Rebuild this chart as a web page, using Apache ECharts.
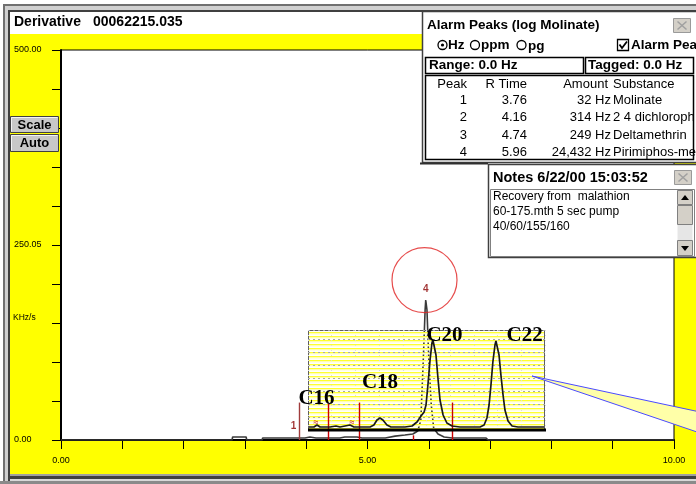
<!DOCTYPE html>
<html><head><meta charset="utf-8">
<script src="https://cdn.jsdelivr.net/npm/echarts@6/dist/echarts.min.js"></script>
<style>html,body{margin:0;padding:0;background:#fff}#c{width:696px;height:484px}</style>
</head><body><div id="c"></div>
<script>
// ---------- data ----------
const mainX = [0, 2.79, 2.80, 3.02, 3.03, 3.28, 3.29, 3.87, 3.98, 4.06, 4.16, 4.55, 4.63, 4.83, 4.91, 5.29, 5.45, 5.61, 5.74, 5.82, 5.87, 5.91, 5.94, 5.95, 5.97, 6.00, 6.04, 6.08, 6.15, 6.25, 6.38, 6.93, 6.97, 10];
const mainY = [0, 0, 3.8, 3.8, 0, 0, 2.6, 2.6, 2.6, 3.8, 2.6, 2.6, 3.8, 3.8, 2.6, 2.6, 5, 6.4, 7.7, 11.5, 25.6, 103, 167, 179.5, 167, 103, 45, 15, 7.7, 3.8, 2.6, 2.6, 0, 0];

const insetX = [0.4, 2.5, 3.8, 5.1, 9.3, 11.8, 13.5, 15.6, 17.7, 19.4, 26.2, 27.8, 29.1, 30.4, 31.6, 33.3, 35, 40.9, 43.9, 46, 47.7, 49, 49.8, 50.6, 51.5, 52.3, 52.7, 53.2, 54, 54.9, 55.7, 57, 58.6, 60.8, 64.1, 72.6, 74.3, 75.5, 76.4, 77.2, 78, 78.9, 79.3, 79.7, 80.6, 81.4, 82.3, 83.1, 84.4, 86.1, 88.6, 99.6];
const insetY = [3, 3, 5, 3, 3, 4, 3, 4, 5, 3, 3, 5, 10, 12, 10, 5, 3, 3, 4, 8, 14, 18, 25, 45, 70, 87, 90, 89, 75, 50, 30, 15, 7, 4, 3, 3, 5, 12, 25, 45, 68, 85, 89, 87, 75, 55, 35, 20, 9, 4, 3, 3];

const insetLabels = ['C16', 'C18', 'C20', 'C22'];
const insetLabelX = [3.8, 30.6, 57.8, 91.6];
const insetLabelY = [31, 47, 94, 94];

const markerX = [3.88, 4.36, 4.86, 6.38, 5.74];
const markerH = [48, 47, 48, 48, 6];

const peakNo = ['1', '2', '3', '4'];
const peakRT = ['3.76', '4.16', '4.74', '5.96'];
const peakAmount = ['32', '314', '249', '24,432'];
const peakSubstance = ['Molinate', '2 4 dichloroph', 'Deltamethrin', 'Pirimiphos-met'];

const yLabelValues = [0, 250, 500];
const yLabelTexts = ['0.00', '250.05', '500.00'];
const xLabelValues = [0, 5, 10];
const xLabelTexts = ['0.00', '5.00', '10.00'];

const alarmPeak = [5.93, 205];
const alarmLabel = [5.96, 193];
const firstPeakLabel = [3.80, 17];

const noteLines = ['Recovery from  malathion', '60-175.mth 5 sec pump', '40/60/155/160'];

// ---------- helpers ----------
const FONT = '"Liberation Sans", Arial, sans-serif';
const SERIF = '"Liberation Serif", "Times New Roman", serif';
function rect(x, y, w, h, fill, stroke, lw, z) {
  return {type: 'rect', shape: {x, y, width: w, height: h}, style: {fill: fill || 'none', stroke: stroke || 'none', lineWidth: lw || 1}, z: z || 10, silent: true};
}
function txt(x, y, s, o) {
  o = o || {};
  return {type: 'text', x, y, z: o.z || 11, silent: true,
    style: {text: s, fill: o.color || '#000', font: (o.bold ? 'bold ' : '') + (o.size || 12) + 'px ' + (o.family || FONT),
      textAlign: o.align || 'left', textVerticalAlign: 'middle', verticalAlign: 'middle'}};
}
function line(x1, y1, x2, y2, color, lw, z) {
  return {type: 'line', shape: {x1, y1, x2, y2}, style: {stroke: color, lineWidth: lw || 1}, z: z || 10, silent: true};
}
function makePattern() {
  const c = document.createElement('canvas'); c.width = 4; c.height = 4;
  const g = c.getContext('2d');
  g.fillStyle = '#ffff30'; g.fillRect(0, 0, 4, 1);
  g.fillStyle = '#ffffb0'; g.fillRect(0, 1, 4, 1);
  g.fillStyle = 'rgba(255,255,200,0.5)'; g.fillRect(0, 2, 4, 1);
  return c;
}

// ---------- graphics (window chrome, panels) ----------
const G = [];
G.push(rect(0, 0, 696, 34, '#fff', null, 1, 1));
G.push(rect(0, 0, 10, 484, '#fff', null, 1, 1));
G.push(rect(3, 4, 2, 480, '#707070', null, 1, 1));
G.push(rect(5, 6, 3, 478, '#d0d0d0', null, 1, 1));
G.push(rect(8, 10, 2, 474, '#404040', null, 1, 1));
G.push(rect(3, 4, 693, 2, '#707070', null, 1, 1));
G.push(rect(5, 6, 691, 4, '#d0d0d0', null, 1, 1));
G.push(rect(8, 10, 688, 2, '#404040', null, 1, 1));
G.push(rect(10, 474, 686, 2, '#a0a0a0', null, 1, 1));
G.push(rect(10, 476, 686, 3, '#404040', null, 1, 1));
G.push(rect(10, 479, 686, 2, '#d8d8d8', null, 1, 1));
G.push(rect(0, 481, 696, 3, '#8a8a8a', null, 1, 1));
G.push(txt(14, 22, 'Derivative', {bold: true, size: 14, z: 2}));
G.push(txt(93, 22, '00062215.035', {bold: true, size: 14, z: 2}));

function button(x, y, w, h, label) {
  G.push(rect(x, y, w, h, '#c8c8c8', '#404040', 1, 8));
  G.push(line(x + 1, y + 1, x + w - 1, y + 1, '#f4f4f4', 1, 9));
  G.push(line(x + 1, y + 1, x + 1, y + h - 1, '#f4f4f4', 1, 9));
  G.push(txt(x + w / 2, y + h / 2 + 0.5, label, {bold: true, size: 13, align: 'center', z: 9}));
}
button(10.5, 116.5, 48, 16, 'Scale');
button(10.5, 134.5, 48, 17, 'Auto');
G.push(txt(13, 318, 'KHz/s', {size: 8.5, z: 3}));

// inset background and frame
G.push({type: 'rect', shape: {x: 308.5, y: 330.5, width: 236, height: 99}, style: {fill: {image: makePattern(), repeat: 'repeat'}, stroke: '#606060', lineWidth: 1}, z: 3, silent: true});
G.push(line(308, 430, 546, 430, '#000', 3, 6));
G.push(txt(316, 423, '≈', {size: 9, color: '#c00000', z: 6, align: 'center'}));
G.push(txt(352, 423, '≈', {size: 9, color: '#c00000', z: 6, align: 'center'}));

// callout wedge
G.push({type: 'polygon', shape: {points: [[532, 376], [700, 412], [700, 433]]}, style: {fill: '#ffffa8'}, z: 7, silent: true});
G.push({type: 'polyline', shape: {points: [[532, 376], [700, 412]]}, style: {stroke: '#4a4aff', lineWidth: 1}, z: 7, silent: true});
G.push({type: 'polyline', shape: {points: [[532, 376], [700, 433]]}, style: {stroke: '#4a4aff', lineWidth: 1}, z: 7, silent: true});

function closeBtn(x, y) {
  G.push(rect(x, y, 17, 14, '#d4d0c8', '#9a9a9a', 1, 12));
  G.push(line(x + 4, y + 3, x + 13, y + 11, '#a0a0a0', 1.5, 13));
  G.push(line(x + 13, y + 3, x + 4, y + 11, '#a0a0a0', 1.5, 13));
}

// Alarm Peaks panel
G.push(rect(422.5, 11.5, 275, 151, '#fff', '#404040', 1.5, 10));
G.push(line(420, 163.5, 488, 163.5, '#303030', 2, 10));
G.push(txt(427, 25, 'Alarm Peaks (log Molinate)', {bold: true, size: 13.5}));
closeBtn(673.5, 18.5);
G.push({type: 'circle', shape: {cx: 442.5, cy: 45, r: 4.5}, style: {fill: '#fff', stroke: '#000', lineWidth: 1.3}, z: 11, silent: true});
G.push({type: 'circle', shape: {cx: 442.5, cy: 45, r: 1.6}, style: {fill: '#000'}, z: 12, silent: true});
G.push(txt(448, 45, 'Hz', {bold: true, size: 13.5}));
G.push({type: 'circle', shape: {cx: 475, cy: 45, r: 4.5}, style: {fill: '#fff', stroke: '#000', lineWidth: 1.3}, z: 11, silent: true});
G.push(txt(481, 45, 'ppm', {bold: true, size: 13.5}));
G.push({type: 'circle', shape: {cx: 521.5, cy: 45, r: 4.5}, style: {fill: '#fff', stroke: '#000', lineWidth: 1.3}, z: 11, silent: true});
G.push(txt(528, 46, 'pg', {bold: true, size: 13.5}));
G.push(rect(617.5, 39.5, 11, 11, '#fff', '#000', 1.3, 11));
G.push({type: 'polyline', shape: {points: [[619.5, 44.5], [622, 48], [627, 41.5]]}, style: {stroke: '#000', lineWidth: 1.8}, z: 12, silent: true});
G.push(txt(631, 45, 'Alarm Peaks', {bold: true, size: 13.5}));
G.push(rect(425.5, 57.5, 158, 16, '#fff', '#000', 1.5, 11));
G.push(txt(429, 65.5, 'Range: 0.0 Hz', {bold: true, size: 13.5, z: 12}));
G.push(rect(585.5, 57.5, 108, 16, '#fff', '#000', 1.5, 11));
G.push(txt(588, 65.5, 'Tagged: 0.0 Hz', {bold: true, size: 13.5, z: 12}));
G.push(rect(425.5, 75.5, 268, 84, '#fff', '#000', 1.5, 11));
const TS = 13;
G.push(txt(467, 84, 'Peak', {size: TS, align: 'right', z: 12}));
G.push(txt(527, 84, 'R Time', {size: TS, align: 'right', z: 12}));
G.push(txt(608, 84, 'Amount', {size: TS, align: 'right', z: 12}));
G.push(txt(613, 84, 'Substance', {size: TS, z: 12}));
const rowY = [100, 117, 135, 152];
peakNo.forEach((p, i) => {
  G.push(txt(467, rowY[i], p, {size: TS, align: 'right', z: 12}));
  G.push(txt(527, rowY[i], peakRT[i], {size: TS, align: 'right', z: 12}));
  G.push(txt(611, rowY[i], peakAmount[i] + ' Hz', {size: TS, align: 'right', z: 12}));
  G.push(txt(613, rowY[i], peakSubstance[i], {size: TS, z: 12}));
});

// Notes panel
G.push(rect(488.5, 164.5, 209, 93, '#fff', '#404040', 1.5, 10));
G.push(txt(493, 178, 'Notes 6/22/00 15:03:52', {bold: true, size: 14.5}));
closeBtn(674.5, 170.5);
G.push(rect(490.5, 189.5, 204, 67, '#fff', '#808080', 1, 11));
noteLines.forEach((s, i) => G.push(txt(493, 197 + i * 15, s, {size: 12, z: 12})));
G.push(rect(677.5, 190.5, 15, 14, '#d4d0c8', '#808080', 1, 12));
G.push({type: 'polygon', shape: {points: [[681, 200], [689, 200], [685, 195]]}, style: {fill: '#000'}, z: 13, silent: true});
G.push(rect(677.5, 205.5, 15, 19, '#d4d0c8', '#808080', 1, 12));
G.push(rect(677.5, 225, 15, 15, '#e6e6e6', null, 1, 12));
G.push(rect(677.5, 240.5, 15, 15, '#d4d0c8', '#808080', 1, 12));
G.push({type: 'polygon', shape: {points: [[681, 246], [689, 246], [685, 251]]}, style: {fill: '#000'}, z: 13, silent: true});

// ---------- chart ----------
const chart = echarts.init(document.getElementById('c'), null, {renderer: 'canvas'});
const mainData = mainX.map((x, i) => [x, mainY[i]]);
const insetData = insetX.map((x, i) => [x, insetY[i]]);

const option = {
  animation: false,
  backgroundColor: '#ffff00',
  textStyle: {fontFamily: FONT},
  grid: [
    {left: 61, top: 50, right: 22, bottom: 44, show: true, backgroundColor: '#fff', borderColor: '#000', borderWidth: 1, z: 0},
    {left: 308, top: 330, width: 237, height: 100, show: false}
  ],
  xAxis: [
    {gridIndex: 0, type: 'value', min: 0, max: 10, interval: 1,
      axisLine: {lineStyle: {color: '#000', width: 2}}, axisTick: {length: 9, lineStyle: {color: '#000', width: 1}},
      axisLabel: {margin: 16, fontSize: 9, color: '#000', fontFamily: FONT,
        formatter: v => { const k = xLabelValues.indexOf(Math.round(v * 100) / 100); return k >= 0 ? xLabelTexts[k] : ''; }},
      splitLine: {show: false}},
    {gridIndex: 1, type: 'value', min: 0, max: 100, interval: 10, z: 4,
      axisLine: {show: false}, axisTick: {show: false}, axisLabel: {show: false},
      splitLine: {show: true, lineStyle: {color: '#dcdcdc', type: [1, 4], width: 1}}}
  ],
  yAxis: [
    {gridIndex: 0, type: 'value', min: 0, max: 500, interval: 50,
      axisLine: {show: true, lineStyle: {color: '#000', width: 2}}, axisTick: {show: true, length: 9, lineStyle: {color: '#000', width: 1}},
      axisLabel: {margin: 47, align: 'left', fontSize: 9, color: '#000', fontFamily: FONT,
        formatter: v => { const k = yLabelValues.indexOf(Math.round(v)); return k >= 0 ? yLabelTexts[k] : ''; }},
      splitLine: {show: false}},
    {gridIndex: 1, type: 'value', min: 0, max: 100, interval: 13, z: 4,
      axisLine: {show: false}, axisTick: {show: false}, axisLabel: {show: false},
      splitLine: {show: true, lineStyle: {color: '#a8a8a8', type: [2, 3], width: 1}}}
  ],
  series: [
    {type: 'line', xAxisIndex: 0, yAxisIndex: 0, data: mainData, showSymbol: false, z: 2,
      lineStyle: {color: '#3a3a3a', width: 1.6},
      markLine: {silent: true, symbol: ['none', 'none'], label: {show: false}, animation: false,
        lineStyle: {color: '#c00000', width: 1.4, type: 'solid'},
        data: markerX.map((x, i) => [{coord: [x, 0], lineStyle: {color: i === 0 ? '#a03c3c' : '#c80000', width: 1.4, type: 'solid'}}, {coord: [x, markerH[i]]}])}},
    {type: 'line', xAxisIndex: 1, yAxisIndex: 1, data: insetData, showSymbol: false, z: 5,
      lineStyle: {color: '#1a1a1a', width: 1.7}},
    {type: 'scatter', xAxisIndex: 1, yAxisIndex: 1, z: 8, clip: false, symbolSize: 1,
      itemStyle: {color: 'rgba(0,0,0,0)'},
      data: insetLabelX.map((x, i) => [x, insetLabelY[i]]),
      label: {show: true, position: [0, 0], align: 'center', verticalAlign: 'middle', formatter: p => insetLabels[p.dataIndex],
        fontFamily: SERIF, fontWeight: 'bold', fontSize: 21, color: '#000', textBorderWidth: 0, opacity: 1}},
    {type: 'scatter', xAxisIndex: 0, yAxisIndex: 0, z: 6, clip: false, symbol: 'circle', symbolSize: 65,
      itemStyle: {color: 'rgba(0,0,0,0)', borderColor: '#e02020', borderWidth: 1.2},
      data: [alarmPeak]},
    {type: 'scatter', xAxisIndex: 0, yAxisIndex: 0, z: 8, clip: false, symbolSize: 1,
      itemStyle: {color: 'rgba(0,0,0,0)'},
      data: [alarmLabel, firstPeakLabel],
      label: {show: true, position: [0, 0], align: 'center', verticalAlign: 'middle', formatter: p => p.dataIndex === 0 ? '4' : '1',
        fontWeight: 'bold', fontSize: 10, color: '#8a0000', fontFamily: FONT, textBorderWidth: 0}}
  ],
  graphic: {elements: G}
};
chart.setOption(option);
</script>
</body></html>
